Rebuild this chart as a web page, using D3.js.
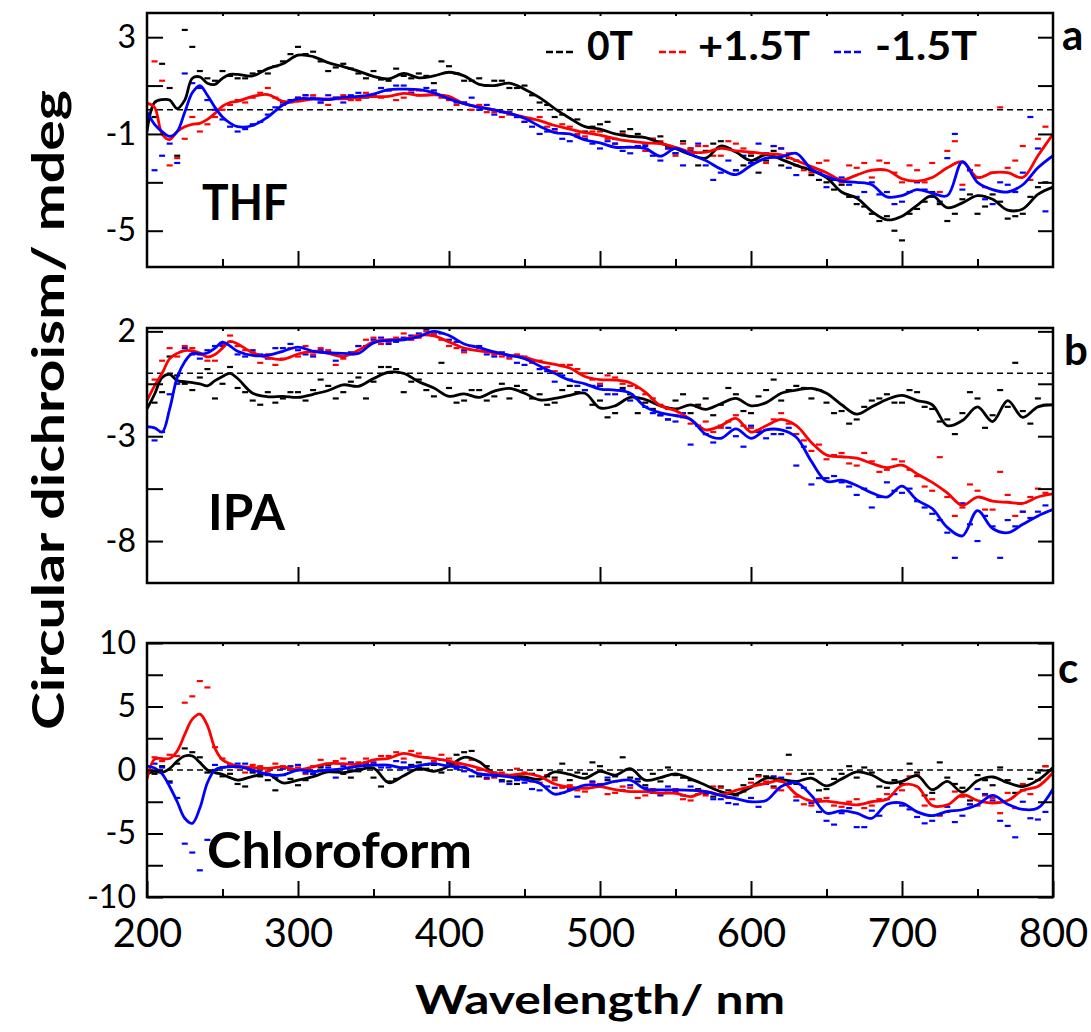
<!DOCTYPE html>
<html>
<head>
<meta charset="utf-8">
<script src="https://cdn.jsdelivr.net/npm/d3@7/dist/d3.min.js"></script>
<style>
  body { margin: 0; background: #fff; }
  svg text { font-family: Lato, "Open Sans", sans-serif; fill: #000; }
</style>
</head>
<body>
<div class="chartHolder"></div>
<script>
// wavelength grid of the smoothed curves (nm)
var wl = [200,205,210,215,220,225,230,235,240,245,250,255,260,
  270,280,290,300,310,320,330,340,350,360,370,380,390,400,410,420,430,440,450,460,470,480,490,
  500,510,520,530,540,550,560,570,580,590,600,610,620,630,640,650,660,670,680,690,
  700,710,720,730,740,750,760,770,780,790,800];
// wavelengths of the raw (dashed) points, two interleaved sets
var rawWl = [205,215,225,235,245,255,265,275,285,295,305,315,325,335,345,355,365,375,385,395,
  405,415,425,435,445,455,465,475,485,495,505,515,525,535,545,555,565,575,585,595,
  605,615,625,635,645,655,665,675,685,695,705,715,725,735,745,755,765,775,785,795];
var rawWl2 = [210,220,230,240,250,260,270,280,290,300,310,320,330,340,350,360,370,380,390,
  400,410,420,430,440,450,460,470,480,490,500,510,520,530,540,550,560,570,580,590,
  600,610,620,630,640,650,660,670,680,690,700,710,720,730,740,750,760,770,780,790];

var legendNames = ["0T", "+1.5T", "-1.5T"];
var solventNames = ["THF", "IPA", "Chloroform"];
var panelLetters = ["a", "b", "c"];
var xTickLabels = [200, 300, 400, 500, 600, 700, 800];

// THF
var thf0 = [-0.9,0.3,0.42,0.4,0.05,0.4,1.3,1.36,1.1,1.05,1.3,1.46,1.46,
  1.4,1.7,1.9,2.26,2.2,1.95,1.78,1.6,1.38,1.28,1.5,1.32,1.4,1.55,1.4,1.05,1.0,1.1,0.85,0.5,0.05,-0.35,-0.7,
  -0.8,-1.0,-1.1,-1.15,-1.37,-1.6,-1.85,-2.0,-1.5,-1.75,-2.1,-1.85,-2.05,-2.3,-2.5,-2.8,-3.4,-3.65,-4.2,-4.55,
  -4.4,-3.95,-3.55,-4.05,-3.85,-3.55,-3.7,-4.15,-4.1,-3.5,-3.2];
var thfP = [0.28,0.1,-1.0,-1.23,-0.9,-0.7,-0.6,-0.56,-0.4,-0.15,0.15,0.3,0.35,
  0.55,0.63,0.35,0.35,0.45,0.45,0.45,0.5,0.54,0.55,0.68,0.6,0.62,0.55,0.25,0.12,0.0,-0.15,-0.3,-0.45,-0.65,-0.8,-0.95,
  -1.05,-1.2,-1.3,-1.37,-1.4,-1.55,-1.75,-1.75,-1.6,-1.7,-1.75,-1.82,-1.86,-2.1,-2.35,-2.6,-2.9,-2.7,-2.5,-2.5,
  -2.85,-2.95,-2.8,-2.4,-2.15,-2.8,-2.6,-2.6,-2.8,-1.9,-1.0];
var thfM = [-0.1,-0.6,-0.9,-1.1,-0.9,-0.1,0.7,1.0,0.6,0.1,-0.3,-0.55,-0.7,
  -0.65,-0.3,0.2,0.45,0.45,0.42,0.52,0.55,0.65,0.83,0.85,0.83,0.7,0.45,0.25,0.1,0.0,-0.15,-0.35,-0.68,-0.95,-1.0,-1.25,
  -1.37,-1.55,-1.55,-1.6,-1.92,-1.6,-1.85,-2.1,-2.45,-2.68,-2.3,-2.0,-1.95,-1.8,-2.45,-2.75,-2.95,-3.0,-3.1,-3.6,
  -3.55,-3.3,-3.45,-3.55,-2.15,-3.0,-3.3,-3.4,-3.1,-2.4,-1.9];
var thf0Raw = [-0.3,0.9,3.3,1.6,1.2,1.4,1.3,1.6,1.8,2.3, 2.3,2.0,1.75,1.7,1.3,1.25,1.7,1.3,1.4,2.0,
  1.5,1.2,1.0,1.2,0.9,0.6,0.2,-0.2,-0.4,-0.7, -0.5,-0.9,-1.0,-1.2,-1.5,-1.3,-2.3,-1.4,-1.6,-2.3,
  -2.6,-1.7,-2.0,-2.4,-2.9,-3.3,-3.6,-4.0,-4.6,-5.0, -4.3,-3.8,-3.9,-4.3,-3.5,-4.0,-3.8,-4.4,-3.6,-3.0];
var thf0Raw2 = [1.9,-1.9,2.6,1.3,1.6,1.3,1.5,1.5,2.0, 2.6,2.4,1.6,1.9,1.5,1.6,1.2,1.4,1.5,1.1,
  1.8,1.2,1.3,1.2,0.9,1.0,0.3,-0.3,0.0,-0.9, -0.6,-1.2,-0.8,-1.4,-1.1,-1.8,-1.6,-1.7,-1.3,-2.5,
  -1.9,-2.1,-2.3,-2.1,-2.7,-3.0,-3.1,-3.9,-4.3,-4.4, -5.4,-4.1,-3.4,-4.6,-3.7,-4.3,-3.5,-4.5,-4.3,-3.2];
var thfPRaw = [2.0,-2.3,-1.2,-0.9,-0.3,0.2,0.3,0.7,0.5,0.3, 0.6,0.3,0.5,0.4,0.7,0.5,0.4,0.8,0.6,0.5,
  0.2,0.0,-0.1,-0.3,-0.3,-0.4,-0.7,-0.6,-1.0,-0.9, -1.2,-1.0,-1.5,-1.2,-1.6,-1.4,-1.5,-1.9,-1.3,-1.6,
  -2.1,-1.5,-1.8,-2.5,-2.2,-2.9,-2.3,-2.2,-2.1,-2.6, -2.3,-3.0,-3.4,-1.3,-2.5,-3.2,0.1,-2.1,-2.9,-0.7];
var thfPRaw2 = [1.2,-2.0,-0.3,-0.6,0.0,0.4,0.5,0.9,0.2, 0.5,0.6,0.2,0.6,0.4,0.6,0.8,0.5,0.8,0.7,
  0.4,0.3,0.2,-0.1,-0.2,-0.5,-0.3,-0.9,-0.7,-1.1, -0.9,-1.4,-1.1,-1.7,-1.3,-1.9,-1.6,-1.5,-1.9,-1.4,
  -1.8,-2.2,-1.6,-2.3,-2.6,-2.1,-3.0,-2.4,-2.8,-2.2, -3.0,-2.5,-2.2,-1.7,-3.1,-2.3,-2.6,-2.4,-1.5,-1.2];
var thfMRaw = [-2.5,-1.4,1.5,0.9,0.0,-0.7,-0.8,-0.5,0.1,0.4, 0.6,0.3,0.5,0.6,0.5,0.9,1.0,0.7,0.9,0.6,
  0.3,0.5,0.2,-0.1,-0.3,-0.7,-0.9,-1.2,-1.1,-1.4, -1.3,-1.7,-1.5,-1.9,-1.6,-2.3,-1.4,-2.9,-2.1,-1.9,
  -1.4,-1.5,-2.4,-2.2,-2.6,-2.9,-3.1,-3.4,-3.5,-3.9, -3.4,-3.3,-3.8,-1.0,-2.5,-3.7,-3.0,-3.4,-0.3,-4.2];
var thfMRaw2 = [-1.9,-2.2,1.1,0.4,-0.4,-0.9,-0.6,-0.2,0.3, 0.5,0.5,0.6,0.3,0.7,0.6,0.8,1.0,0.6,0.8,
  0.5,0.3,0.0,-0.2,-0.1,-0.5,-1.0,-0.8,-1.3,-1.2, -1.6,-1.4,-1.8,-1.5,-2.1,-1.8,-1.7,-2.3,-2.6,-2.5,
  -2.2,-1.8,-1.6,-2.7,-2.5,-3.2,-2.8,-3.6,-3.0,-3.4, -3.8,-3.0,-3.6,-2.0,-3.3,-2.8,-3.9,-3.1,-2.6,-1.6];

// IPA
var ipa0 = [-1.7,-1.0,-0.2,-0.05,-0.35,-0.4,-0.44,-0.5,-0.6,-0.35,-0.15,0.0,-0.25,
  -0.95,-1.12,-1.1,-1.15,-1.0,-0.82,-0.55,-0.62,-0.25,0.05,0.0,-0.4,-0.7,-1.1,-0.98,-1.15,-0.85,-0.72,-0.95,-1.27,-1.2,-1.05,-0.95,
  -1.65,-1.55,-1.15,-1.25,-1.55,-1.7,-1.51,-1.72,-1.45,-1.2,-1.55,-1.4,-0.95,-0.8,-0.72,-0.95,-1.5,-1.95,-1.6,-1.25,
  -1.05,-1.3,-1.5,-2.5,-2.25,-1.6,-2.3,-1.3,-2.1,-1.6,-1.5];
var ipaP = [-1.3,-0.6,0.0,0.7,0.95,1.08,1.07,0.96,0.78,0.9,1.2,1.52,1.4,
  0.98,0.75,0.66,0.92,1.05,0.95,0.8,1.1,1.5,1.6,1.62,1.82,1.78,1.5,1.2,1.07,0.98,0.86,0.76,0.56,0.42,0.25,-0.15,
  -0.3,-0.32,-0.45,-0.9,-1.55,-1.78,-2.2,-2.7,-2.5,-2.15,-2.8,-2.5,-2.2,-2.5,-3.3,-3.9,-3.98,-4.05,-4.3,-4.5,
  -4.38,-4.8,-5.2,-5.7,-6.3,-5.9,-6.1,-6.15,-6.2,-5.9,-5.75];
var ipaM = [-2.55,-2.6,-2.8,-1.7,-0.2,0.55,0.95,0.92,0.97,1.2,1.48,1.3,1.05,
  0.85,0.86,1.05,1.25,1.05,0.98,0.95,0.95,1.45,1.57,1.6,1.75,2.0,1.8,1.4,1.22,1.02,0.86,0.7,0.35,0.0,-0.33,-0.5,
  -0.75,-0.8,-0.95,-1.6,-1.88,-2.02,-2.2,-2.9,-3.1,-2.65,-3.1,-2.7,-2.7,-3.05,-4.2,-5.15,-5.1,-5.35,-5.7,-5.9,
  -5.38,-6.05,-6.45,-7.35,-7.75,-6.55,-7.4,-7.6,-7.2,-6.8,-6.5];
var ipa0Raw = [-1.4,0.8,-0.5,-0.2,-1.2,0.3,-0.9,-1.5,-1.4,-0.9, -1.3,-0.3,-1.2,-0.4,-1.2,0.3,0.2,-0.4,-0.8,0.5,
  -1.4,-0.8,-1.3,-0.5,-0.6,-1.2,-1.5,-0.8,-0.9,-1.5, -2.1,-0.7,-1.9,-1.7,-2.2,-1.0,-1.5,-2.0,-0.7,-1.8,
  -1.1,-0.3,-0.8,-0.7,-0.8,-1.9,-2.4,-1.6,-1.2,-1.4, -0.8,-1.6,-2.3,-2.9,-0.9,-2.6,-0.8,0.5,-2.4,-1.5];
var ipa0Raw2 = [-0.9,-0.1,-0.8,0.2,-0.5,-0.7,-1.3,-0.9,-1.2, -0.9,-0.8,-0.6,-0.9,-0.2,-0.4,0.3,-0.9,-0.3,-1.1,
  -0.7,-1.3,-0.8,-1.1,-1.2,-0.8,-1.0,-1.4,-0.6,-0.8, -1.3,-1.9,-1.0,-1.4,-2.0,-1.3,-1.9,-1.2,-1.5,-1.0,
  -1.9,-0.8,-1.3,-0.6,-1.2,-1.4,-1.8,-2.2,-1.3,-1.0, -1.4,-0.9,-1.7,-2.2,-1.9,-1.2,-2.0,-1.6,-1.8,-1.2];
var ipaPRaw = [-0.3,1.2,1.3,0.9,0.6,1.8,1.1,0.5,0.4,1.2, 1.3,1.2,0.4,0.9,1.6,1.4,1.7,1.6,2.0,1.6,
  1.2,1.3,1.1,0.8,0.9,0.5,0.3,0.4,0.2,-0.3, -0.1,-0.5,-0.7,-1.2,-1.7,-2.1,-1.6,-2.8,-2.3,-2.5,
  -2.7,-2.2,-2.4,-3.2,-3.4,-3.9,-4.3,-3.8,-4.7,-4.1, -4.6,-5.4,-4.0,-6.8,-5.3,-6.5,-4.7,-6.8,-5.9,-5.7];
var ipaPRaw2 = [0.6,0.8,1.2,0.6,1.4,1.3,1.0,0.9,0.7, 0.8,0.9,1.1,0.7,1.3,1.7,1.5,1.9,1.7,1.9,
  1.3,1.0,1.2,0.9,0.7,0.8,0.6,0.1,0.4,0.0, -0.5,-0.2,-0.6,-1.0,-1.5,-2.0,-2.4,-2.3,-2.6,-2.0,
  -2.6,-2.7,-1.9,-2.9,-3.7,-4.1,-3.8,-4.4,-4.2,-4.6, -4.2,-4.9,-5.6,-5.9,-6.4,-5.6,-6.5,-5.8,-6.6,-5.5];
var ipaMRaw = [-3.2,-1.0,1.2,0.7,1.3,1.5,0.8,0.9,1.2,1.4, 0.9,1.1,0.6,1.0,1.3,1.7,1.5,1.8,2.1,1.9,
  1.5,1.3,0.9,1.0,0.5,0.6,0.1,-0.1,-0.6,-0.6, -1.0,-0.8,-1.2,-1.9,-2.2,-1.9,-2.5,-3.3,-2.6,-3.5,
  -2.8,-2.9,-2.6,-3.5,-5.0,-4.9,-5.4,-5.5,-5.9,-5.6, -5.5,-6.4,-7.0,-8.8,-7.2,-6.8,-8.8,-7.3,-6.9,-6.3];
var ipaMRaw2 = [-2.8,-0.5,0.9,1.1,1.3,0.9,1.1,0.7,1.2, 1.1,0.8,1.0,0.8,1.3,1.6,1.4,1.7,1.9,1.8,
  1.6,1.1,1.3,0.8,0.8,0.4,0.2,-0.4,-0.3,-0.8, -0.6,-1.0,-1.3,-1.6,-2.0,-2.3,-3.4,-2.9,-2.5,-3.0,
  -2.5,-3.1,-2.9,-4.4,-5.3,-5.0,-5.2,-5.8,-6.4,-5.2, -5.7,-6.1,-6.7,-7.6,-6.2,-8.0,-7.3,-7.0,-6.6,-6.6];

// Chloroform
var chl0 = [-0.3,-0.1,-0.2,0.1,0.7,1.1,1.1,0.6,0.0,-0.2,-0.35,-0.6,-0.8,
  -0.5,-0.31,-1.02,-0.8,-0.52,-0.15,-0.2,0.0,0.15,-1.0,-0.45,0.1,-0.1,0.3,1.0,0.65,-0.3,-0.45,-0.55,-0.73,-0.15,-0.35,-0.65,
  -0.1,-0.4,0.1,-0.8,-0.6,-0.3,-0.7,-1.2,-1.7,-1.9,-1.35,-0.65,-0.75,-0.9,-0.65,-1.25,-0.7,-0.15,-0.39,-1.0,
  -0.9,-0.45,-1.55,-0.9,-1.75,-0.85,-0.55,-1.0,-1.3,-0.8,0.2];
var chlP = [-0.7,0.85,0.9,0.9,1.5,2.8,4.0,4.4,3.5,1.7,0.8,0.5,0.3,
  0.2,0.13,0.25,0.0,0.25,0.5,0.5,0.45,0.8,0.92,1.31,1.05,0.92,0.7,0.45,0.15,-0.25,-0.4,-0.28,-0.5,-1.1,-1.35,-1.45,
  -1.31,-1.55,-1.7,-1.7,-1.83,-1.83,-2.1,-1.7,-1.95,-1.6,-1.3,-1.05,-0.85,-1.9,-2.45,-2.45,-2.6,-2.75,-2.5,-2.3,
  -1.2,-1.3,-2.8,-2.75,-1.95,-2.4,-2.6,-2.4,-1.6,-1.3,-0.2];
var chlM = [0.3,0.15,-0.3,-1.3,-2.5,-3.8,-4.2,-3.0,-1.0,0.0,0.2,0.25,0.26,
  0.0,-0.35,-0.39,0.0,-0.12,0.0,0.1,0.3,0.38,0.39,0.15,0.35,0.5,0.3,0.2,-0.3,-0.4,-0.55,-0.78,-1.04,-1.9,-1.6,-1.2,
  -1.17,-0.9,-0.8,-1.5,-1.57,-1.57,-1.6,-1.7,-2.0,-2.25,-2.5,-2.4,-1.3,-1.0,-2.0,-3.4,-3.2,-3.4,-3.8,-2.7,
  -2.6,-3.3,-3.6,-3.26,-3.13,-2.74,-2.0,-2.7,-3.1,-3.0,-1.5];
var chl0Raw = [-0.3,-0.9,1.7,1.0,0.0,-0.3,-1.3,-0.5,-1.6,-0.7, -0.8,0.2,-0.1,-0.6,0.6,-1.3,-0.7,0.4,0.1,-0.2,
  1.2,1.5,0.3,-0.8,-1.1,-0.3,-0.5,0.5,-0.2,0.6, -0.8,1.0,-0.9,-0.3,0.2,-0.6,-1.5,-2.1,-1.6,-1.2,
  -0.4,-1.3,1.2,-0.3,-1.6,-0.7,0.3,0.2,-1.3,-0.8, 0.5,-2.0,0.6,-1.1,-2.4,-0.8,0.2,-1.8,-0.7,0.3];
var chl0Raw2 = [0.3,0.5,1.4,-0.2,-0.5,-1.1,-0.2,-0.8,-0.4, -1.2,-0.3,0.4,-0.3,-0.1,-0.6,-0.9,0.2,0.6,0.4,
  0.6,1.4,-0.5,-0.2,-0.9,-0.6,0.0,-0.6,-0.8,-0.3, 0.3,-0.5,-0.6,-1.2,-0.9,-0.4,-0.8,-1.9,-1.3,-2.0,
  -0.7,-0.5,-0.9,-1.1,-0.3,-1.5,-0.3,-0.6,-0.2,-1.4, -1.1,-0.2,-1.8,-0.6,-1.4,-0.4,-1.2,-0.8,-1.6,-0.2];
var chlPRaw = [1.0,1.2,5.3,7.0,1.8,0.4,-0.2,0.3,0.5,0.1, -0.3,0.8,0.7,0.2,0.9,1.1,1.4,1.5,1.0,1.2,
  0.4,0.8,-0.7,-0.2,0.1,-0.9,-0.4,-1.4,-1.6,-1.0, -1.9,-1.3,-2.2,-1.5,-1.6,-2.3,-1.6,-1.3,-2.2,-1.7,
  -0.5,-1.4,-0.3,-2.7,-2.3,-2.8,-2.5,-3.0,-2.3,-2.6, -0.5,-2.8,-3.6,-1.7,-2.7,-2.0,-3.4,-3.0,-1.9,0.3];
var chlPRaw2 = [0.7,1.1,5.8,6.5,0.9,0.2,0.4,-0.1,0.3, 0.2,0.3,0.5,0.9,0.6,0.5,1.1,0.9,1.3,0.7,
  0.9,0.2,0.0,-0.6,-0.5,-0.2,-1.0,-0.8,-1.2,-1.7, -1.1,-1.8,-1.4,-2.0,-1.9,-1.5,-2.4,-2.0,-1.4,-1.9,
  -1.0,-0.9,-1.6,-2.1,-2.8,-2.2,-2.9,-2.3,-2.8,-1.9, -1.6,-0.4,-2.3,-3.3,-2.1,-2.8,-2.2,-1.8,-1.1,-0.8];
var chlMRaw = [0.5,-1.0,-5.8,-7.9,0.4,0.3,0.5,-0.3,-0.6,0.3, -0.2,0.3,-0.6,0.6,0.5,0.2,0.7,0.3,0.4,0.8,
  0.1,-0.5,-0.6,-0.9,-0.8,-1.5,-1.3,-1.8,-2.1,-0.9, -0.6,-1.6,-0.7,-1.8,-1.3,-2.0,-1.9,-2.3,-2.6,-1.5,
  -2.9,-0.5,-1.1,-1.4,-3.3,-4.3,-3.0,-4.5,-3.6,-1.9, -3.1,-4.2,-3.5,-4.1,-2.7,-1.9,-4.0,-5.3,-3.8,-3.3];
var chlMRaw2 = [0.2,-2.2,-6.5,-5.5,0.2,0.5,-0.1,-0.4,0.1, 0.4,-0.3,0.2,0.3,0.1,0.6,0.2,0.6,0.2,0.5,
  0.5,-0.1,-0.3,-0.5,-1.1,-1.0,-1.6,-1.4,-1.5,-1.4, -1.3,-0.4,-1.2,-1.4,-2.0,-1.7,-1.3,-1.8,-2.3,-2.7,
  -2.2,-1.1,-0.6,-2.4,-2.6,-4.0,-3.4,-4.5,-3.2,-2.3, -2.8,-3.7,-4.0,-2.9,-3.6,-1.5,-2.4,-4.4,-2.5,-3.9];

var colors = ["#000000", "#ff0000", "#0000ff"];

var svgW = 1091, svgH = 1032;
var left = 147, right = 1053;

var panels = [
  { top: 13, bottom: 267, domain: [-6.5, 4], ticks: [3, 1, -1, -3, -5], labels: [3, -1, -5],
    lines: [thf0, thfP, thfM], raws: [thf0Raw, thfPRaw, thfMRaw], raws2: [thf0Raw2, thfPRaw2, thfMRaw2], minor: true,
    nameX: 202, nameY: 220, nameLen: 86, letterX: 1062, letterY: 50 },
  { top: 328, bottom: 583, domain: [-10, 2.16], ticks: [2, -0.5, -3, -5.5, -8], labels: [2, -3, -8],
    lines: [ipa0, ipaP, ipaM], raws: [ipa0Raw, ipaPRaw, ipaMRaw], raws2: [ipa0Raw2, ipaPRaw2, ipaMRaw2], minor: false,
    nameX: 208, nameY: 530, nameLen: 77, letterX: 1064, letterY: 365 },
  { top: 643, bottom: 897, domain: [-10, 10], ticks: [10, 7.5, 5, 2.5, 0, -2.5, -5, -7.5, -10], labels: [10, 5, 0, -5, -10],
    lines: [chl0, chlP, chlM], raws: [chl0Raw, chlPRaw, chlMRaw], raws2: [chl0Raw2, chlPRaw2, chlMRaw2], minor: true,
    nameX: 207, nameY: 868, nameLen: 265, letterX: 1058, letterY: 683 }
];

var svg = d3.select(".chartHolder").append("svg").attr("width", svgW).attr("height", svgH);
svg.append("rect").attr("width", svgW).attr("height", svgH).attr("fill", "#fff");

var x = d3.scaleLinear().domain([200, 800]).range([left, right]);

function drawDashes(sel, vals, xs, y, color) {
  sel.selectAll(null).data(vals).enter().append("line")
    .attr("x1", function (d, i) { return x(xs[i]) - 3; })
    .attr("x2", function (d, i) { return x(xs[i]) + 3; })
    .attr("y1", function (d) { return y(d); })
    .attr("y2", function (d) { return y(d); })
    .attr("stroke", color).attr("stroke-width", 2.2);
}

panels.forEach(function (p, pi) {
  var y = d3.scaleLinear().domain(p.domain).range([p.bottom, p.top]);
  var g = svg.append("g");

  g.append("clipPath").attr("id", "clip" + pi).append("rect")
    .attr("x", left).attr("y", p.top).attr("width", right - left).attr("height", p.bottom - p.top);

  // zero line
  g.append("line").attr("x1", left).attr("x2", right).attr("y1", y(0)).attr("y2", y(0))
    .attr("stroke", "#000").attr("stroke-width", 1.5).attr("stroke-dasharray", "6,4");

  var plot = g.append("g").attr("clip-path", "url(#clip" + pi + ")");

  // raw points drawn as short dashes
  p.raws.forEach(function (r, si) {
    drawDashes(plot, r, rawWl, y, colors[si]);
    drawDashes(plot, p.raws2[si], rawWl2, y, colors[si]);
  });

  var line = d3.line()
    .x(function (d, i) { return x(wl[i]); })
    .y(function (d) { return y(d); })
    .curve(d3.curveCatmullRom.alpha(0.5));

  p.lines.forEach(function (s, si) {
    plot.append("path").datum(s).attr("d", line)
      .attr("fill", "none").attr("stroke", colors[si]).attr("stroke-width", 2.8)
      .attr("stroke-linejoin", "round");
  });

  // axes
  var yAxis = d3.axisLeft(y).tickValues(p.ticks).tickSizeInner(-16).tickSizeOuter(0).tickPadding(11)
    .tickFormat(function (d) { return p.labels.indexOf(d) >= 0 ? d : ""; });
  g.append("g").attr("class", "ax").attr("transform", "translate(" + left + ",0)").call(yAxis)
    .selectAll("text").style("font-size", "32px");

  g.append("g").attr("class", "ax").attr("transform", "translate(" + right + ",0)")
    .call(d3.axisRight(y).tickValues(p.ticks).tickSizeInner(-15).tickSizeOuter(0).tickFormat(""));

  g.append("g").attr("class", "ax").attr("transform", "translate(0," + p.top + ")")
    .call(d3.axisTop(x).tickValues([250, 300, 350, 400, 450, 500, 550, 600, 650, 700, 750])
      .tickSizeInner(-3).tickSizeOuter(0).tickFormat(""));

  var bottomAxis = d3.axisBottom(x).tickValues([300, 400, 500, 600, 700]).tickSizeInner(-16).tickSizeOuter(0);
  if (pi === 2) {
    bottomAxis = d3.axisBottom(x).tickValues(xTickLabels).tickSizeInner(-16).tickSizeOuter(0).tickPadding(22);
  } else {
    bottomAxis.tickFormat("");
  }
  var bx = g.append("g").attr("class", "ax").attr("transform", "translate(0," + p.bottom + ")").call(bottomAxis);
  bx.selectAll("text").style("font-size", "40px");

  if (p.minor) {
    g.append("g").attr("class", "ax").attr("transform", "translate(0," + p.bottom + ")")
      .call(d3.axisBottom(x).tickValues([250, 350, 450, 550, 650, 750]).tickSizeInner(-8).tickSizeOuter(0).tickFormat(""));
  }

  // frame
  g.append("rect").attr("x", left).attr("y", p.top).attr("width", right - left).attr("height", p.bottom - p.top)
    .attr("fill", "none").attr("stroke", "#000").attr("stroke-width", 2.5);

  g.append("text").attr("x", p.nameX).attr("y", p.nameY).text(solventNames[pi])
    .style("font-size", "50px").style("font-weight", "bold")
    .attr("textLength", p.nameLen).attr("lengthAdjust", "spacingAndGlyphs");

  g.append("text").attr("x", p.letterX).attr("y", p.letterY).text(panelLetters[pi])
    .style("font-size", "42px").style("font-weight", "bold");
});

svg.selectAll(".ax path.domain").remove();
svg.selectAll(".ax line").attr("stroke", "#000").attr("stroke-width", 2);

// legend
var legX = [546, 659, 834], legTextX = [587, 698, 875], legLen = [46, 112, 102];
legendNames.forEach(function (n, i) {
  svg.append("line").attr("x1", legX[i]).attr("x2", legX[i] + 28).attr("y1", 52).attr("y2", 52)
    .attr("stroke", colors[i]).attr("stroke-width", 2.6).attr("stroke-dasharray", "7,3");
  svg.append("text").attr("x", legTextX[i]).attr("y", 60).text(n)
    .style("font-size", "40px").style("font-weight", "bold")
    .attr("textLength", legLen[i]).attr("lengthAdjust", "spacingAndGlyphs");
});

// axis titles
svg.append("text").attr("x", 415).attr("y", 1014).text("Wavelength/ nm")
  .style("font-size", "41px").style("font-weight", "bold")
  .attr("textLength", 370).attr("lengthAdjust", "spacingAndGlyphs");

svg.append("text").attr("transform", "translate(64,410) rotate(-90)")
  .attr("text-anchor", "middle").text("Circular dichroism/ mdeg")
  .style("font-size", "44px").style("font-weight", "bold")
  .attr("textLength", 640).attr("lengthAdjust", "spacingAndGlyphs");
</script>
</body>
</html>
